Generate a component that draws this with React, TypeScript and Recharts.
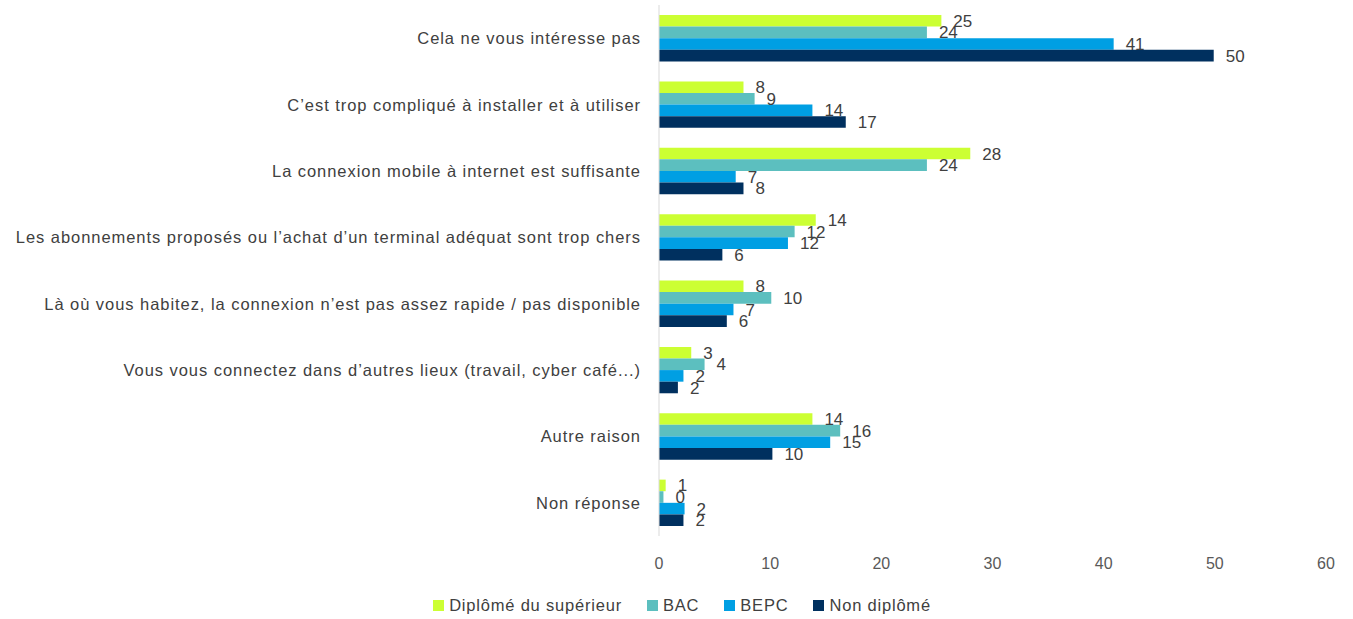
import { BarChart, Bar, XAxis, YAxis, Legend, LabelList } from "recharts";

const categories = [
  "Cela ne vous intéresse pas",
  "C’est trop compliqué à installer et à utiliser",
  "La connexion mobile à internet est suffisante",
  "Les abonnements proposés ou l’achat d’un terminal adéquat sont trop chers",
  "Là où vous habitez, la connexion n’est pas assez rapide / pas disponible",
  "Vous vous connectez dans d’autres lieux (travail, cyber café...)",
  "Autre raison",
  "Non réponse",
];

const superieur = [25.4, 7.6, 28.0, 14.1, 7.6, 2.9, 13.8, 0.6];
const bac = [24.1, 8.6, 24.1, 12.2, 10.1, 4.1, 16.3, 0.4];
const bepc = [40.9, 13.8, 6.9, 11.6, 6.7, 2.2, 15.4, 2.3];
const nonDiplome = [49.9, 16.8, 7.6, 5.7, 6.1, 1.7, 10.2, 2.2];

const xTicks = [0, 10, 20, 30, 40, 50, 60];

const series = [
  { key: "sup", name: "Diplômé du supérieur", color: "#CCFF33" },
  { key: "bac", name: "BAC", color: "#5CBFBF" },
  { key: "bepc", name: "BEPC", color: "#009FE3" },
  { key: "non", name: "Non diplômé", color: "#00305F" },
];

const data = categories.map((c, i) => ({
  cat: c,
  sup: superieur[i],
  bac: bac[i],
  bepc: bepc[i],
  non: nonDiplome[i],
}));

const font = "Liberation Sans, Arial, sans-serif";

function CatTick(props: any) {
  const { y, payload } = props;
  return (
    <text
      x={641}
      y={y}
      textAnchor="end"
      dominantBaseline="central"
      fill="#404040"
      fontSize={16.5}
      letterSpacing={0.95}
      fontFamily={font}
    >
      {payload.value}
    </text>
  );
}

function LegendContent() {
  return (
    <div
      style={{
        display: "flex",
        justifyContent: "center",
        gap: 25,
        paddingTop: 10,
        paddingLeft: 38,
        fontFamily: font,
        fontSize: 16.5,
        letterSpacing: 0.8,
        color: "#404040",
      }}
    >
      {series.map((s) => (
        <div key={s.key} style={{ display: "flex", alignItems: "center" }}>
          <span
            style={{
              width: 11,
              height: 11,
              background: s.color,
              display: "inline-block",
              marginRight: 5,
            }}
          />
          <span>{s.name}</span>
        </div>
      ))}
    </div>
  );
}

export default function App() {
  return (
    <div style={{ position: "absolute", left: 0, top: 0, background: "#fff" }}>
      <BarChart
        width={1353}
        height={619}
        data={data}
        layout="vertical"
        margin={{ top: 5, right: 27, bottom: 0, left: 0 }}
        barGap={0}
        barSize={11.6}
      >
        <XAxis
          type="number"
          domain={[0, 60]}
          ticks={xTicks}
          axisLine={false}
          tickLine={false}
          height={50}
          tickMargin={16}
          tick={{ fill: "#595959", fontSize: 16, fontFamily: font }}
        />
        <YAxis
          type="category"
          dataKey="cat"
          width={659}
          tickLine={false}
          axisLine={{ stroke: "#D9D9D9" }}
          tick={<CatTick />}
          interval={0}
        />
        <Legend verticalAlign="bottom" height={33} content={<LegendContent />} />
        {series.map((s) => (
          <Bar
            key={s.key}
            dataKey={s.key}
            name={s.name}
            fill={s.color}
            isAnimationActive={false}
          >
            <LabelList
              dataKey={s.key}
              position="right"
              offset={12}
              formatter={(v: any) => Math.round(Number(v))}
              fill="#404040"
              fontSize={17}
              fontFamily={font}
            />
          </Bar>
        ))}
      </BarChart>
    </div>
  );
}
